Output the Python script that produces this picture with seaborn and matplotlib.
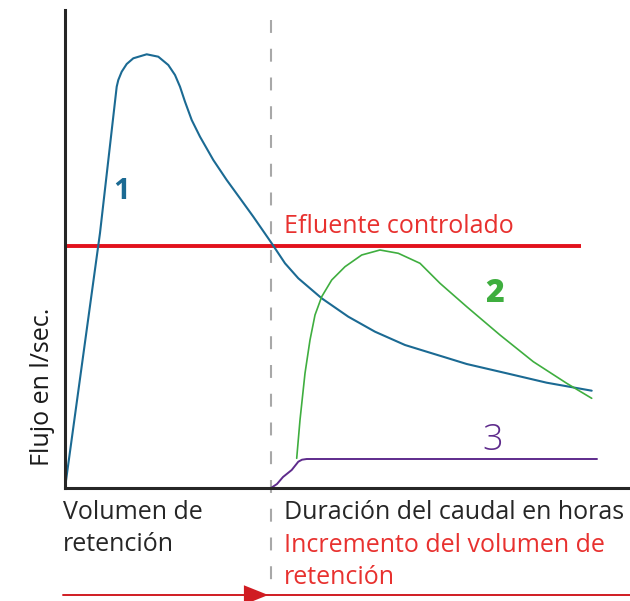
import numpy as np
import pandas as pd
import matplotlib
matplotlib.use("Agg")
import matplotlib.pyplot as plt
import seaborn as sns

sns.set_theme(style="white")
plt.rcParams['font.family'] = ['Open Sans', 'DejaVu Sans']

# Curve 1 (blue) (x, y in chart units)
c1_x = [0, 35.0, 51.7, 53.3, 56.7, 61.7, 68.3, 81.7, 93.3, 103.3, 110, 115, 120, 126.7,
        135, 148.3, 161.7, 175, 188.3, 206.7, 220, 233.3, 256.7, 283.3, 310, 340,
        361.7, 380, 401.7, 441.7, 481.7, 526.7]
c1_y = [0, 255.0, 401.3, 408, 416.3, 424, 429.7, 433.7, 431.3, 423, 413, 401.3, 386.3, 368,
        351.3, 328, 308, 289.7, 271.3, 244.7, 224.7, 209.7, 189.7, 171.3, 156.3, 143,
        136.3, 130.7, 124, 114.7, 105.3, 97.3]
# Curve 2 (green)
c2_x = [231.7, 235, 240, 245, 250, 256.7, 266.7, 280, 296.7, 315, 333.3, 355, 375,
        401.7, 435, 468.3, 501.7, 526.7]
c2_y = [29.7, 68, 114.7, 148, 173, 191.3, 208, 221.3, 233, 238, 234.7, 224.7, 204.7,
        181.3, 153, 126.3, 104.7, 89.7]
# Curve 3 (purple)
c3_x = [206, 212, 218, 226.7, 233.3, 237, 241.7, 532]
c3_y = [0, 4, 11, 18, 26.3, 28.3, 29, 29]
# Controlled effluent level
effluent_y = 242
effluent_x = [0, 516]
retention_x = 206

df = pd.concat([
    pd.DataFrame({"x": c1_x, "y": c1_y, "curva": "1"}),
    pd.DataFrame({"x": c2_x, "y": c2_y, "curva": "2"}),
    pd.DataFrame({"x": c3_x, "y": c3_y, "curva": "3"}),
], ignore_index=True)

palette = {"1": "#1b6a93", "2": "#3fae3f", "3": "#5e2b8c"}
widths = {"1": 1.5, "2": 1.2, "3": 1.4}
red = "#e2121c"
red_text = "#e8312f"

fig = plt.figure(figsize=(6.30, 6.01), dpi=100)
ax = fig.add_axes([65/630, 113/601, 565/630, 478/601])

for key in ["3", "1", "2"]:
    sns.lineplot(data=df[df["curva"] == key], x="x", y="y", color=palette[key],
                 sort=False, estimator=None, linewidth=widths[key], legend=False, ax=ax)

ax.plot(effluent_x, [effluent_y, effluent_y], color=red, lw=2.8, solid_capstyle="butt",
        zorder=1)

ax.plot([retention_x, retention_x], [468, -105], color="#a8a8a8", lw=1.5,
        dashes=(6.2, 7.6), clip_on=False, zorder=0)

# bottom red arrow line
ax.plot([-2, 566], [-107, -107], color="#d01c22", lw=1.4, clip_on=False)
ax.annotate("", xy=(retention_x, -107), xytext=(retention_x - 20, -107),
            arrowprops=dict(arrowstyle="-|>,head_length=1.25,head_width=0.5",
                            color="#d01c22", lw=0, mutation_scale=14),
            annotation_clip=False)

ax.set_xlim(0, 565)
ax.set_ylim(0, 478)
ax.set_xticks([])
ax.set_yticks([])
ax.set_xlabel("")
ax.set_ylabel("")
for s in ["top", "right"]:
    ax.spines[s].set_visible(False)
for s in ["left", "bottom"]:
    ax.spines[s].set_linewidth(2.2)
    ax.spines[s].set_color("#262626")

fs = 18
ax.text(57, 297, "1", color=palette["1"], fontsize=21, fontweight="bold",
        ha="center", va="center")
ax.text(430, 194, "2", color=palette["2"], fontsize=23, fontweight="heavy",
        ha="center", va="center")
ax.text(428, 48, "3", color=palette["3"], fontsize=26, fontweight="light",
        ha="center", va="center")
ax.text(219, 262, "Efluente controlado", color=red_text, fontsize=fs,
        ha="left", va="center")
ax.text(-22, 101, "Flujo en l/sec.", color="#1a1a1a", fontsize=fs, rotation=90,
        ha="center", va="center", clip_on=False)
ax.text(-2, -12, "Volumen de\nretención", color="#262626", fontsize=fs,
        ha="left", va="top", linespacing=1.38)
ax.text(219, -12, "Duración del caudal en horas", color="#262626", fontsize=fs,
        ha="left", va="top")
ax.text(219, -45, "Incremento del volumen de\nretención", color=red_text, fontsize=fs,
        ha="left", va="top", linespacing=1.38)

fig.savefig("out.png", dpi=100)
